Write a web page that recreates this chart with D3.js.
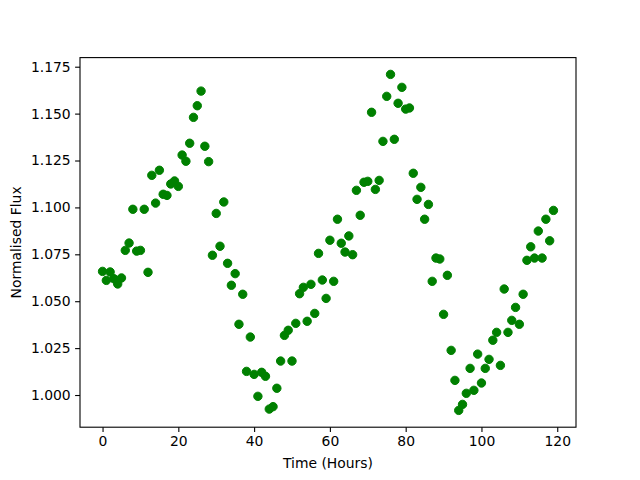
<!DOCTYPE html>
<html><head><meta charset="utf-8">
<script src="https://cdn.jsdelivr.net/npm/d3@7"></script>
<style>body{margin:0;background:#fff}svg{display:block}text{font-family:"DejaVu Sans",sans-serif}</style>
</head><body><svg id="c" width="640" height="480"></svg>
<script>
const hours = d3.range(0, 120);
const flux = [
1.0659,1.0611,1.0656,1.0620,1.0592,1.0624,1.0771,1.0810,1.0990,1.0767,
1.0771,1.0990,1.0654,1.1171,1.1023,1.1198,1.1070,1.1064,1.1125,1.1141,
1.1112,1.1279,1.1246,1.1342,1.1480,1.1542,1.1620,1.1326,1.1244,1.0745,
1.0968,1.0793,1.1029,1.0702,1.0585,1.0647,1.0377,1.0537,1.0126,1.0309,
1.0110,0.9993,1.0121,1.0100,0.9925,0.9938,1.0036,1.0181,1.0318,1.0345,
1.0181,1.0382,1.0540,1.0574,1.0393,1.0590,1.0435,1.0755,1.0613,1.0515,
1.0825,1.0606,1.0937,1.0809,1.0762,1.0848,1.0748,1.1091,1.0958,1.1134,
1.1139,1.1507,1.1096,1.1144,1.1352,1.1592,1.1709,1.1363,1.1555,1.1640,
1.1524,1.1530,1.1182,1.1043,1.1107,1.0937,1.1016,1.0606,1.0730,1.0725,
1.0430,1.0638,1.0238,1.0078,0.9918,0.9950,1.0009,1.0142,1.0025,1.0218,
1.0064,1.0142,1.0190,1.0292,1.0334,1.0158,1.0565,1.0334,1.0398,1.0467,
1.0377,1.0537,1.0718,1.0790,1.0730,1.0874,1.0730,1.0937,1.0822,1.0984];
const xTicks = [0,20,40,60,80,100,120];
const yTicks = [1.000,1.025,1.050,1.075,1.100,1.125,1.150,1.175];
const xLabel = "Time (Hours)";
const yLabel = "Normalised Flux";

const svg = d3.select("#c");
const L=80, R=576, T=57.6, B=427.2;
function pad(ext){const r=ext[1]-ext[0];return [ext[0]-0.05*r, ext[1]+0.05*r];}
const x = d3.scaleLinear().domain(pad(d3.extent(hours))).range([L,R]);
const y = d3.scaleLinear().domain(pad(d3.extent(flux))).range([B,T]);

const ax = svg.append("g").attr("transform",`translate(0,${B})`)
  .call(d3.axisBottom(x).tickValues(xTicks).tickFormat(d3.format("d")).tickSize(4.9).tickPadding(4.4));
const ay = svg.append("g").attr("transform",`translate(${L},0)`)
  .call(d3.axisLeft(y).tickValues(yTicks).tickFormat(d3.format(".3f")).tickSize(4.9).tickPadding(4.4));
[ax,ay].forEach(g=>{
  g.select(".domain").remove();
  g.selectAll(".tick line").attr("stroke","#000").attr("stroke-width",1.1);
  g.selectAll(".tick text").attr("font-size","13.9px").attr("fill","#000").attr("font-family","DejaVu Sans");
});

svg.append("g").selectAll("circle").data(hours).join("circle")
  .attr("cx",(d)=>x(d)).attr("cy",(d,i)=>y(flux[i])).attr("r",4.2)
  .attr("fill","#008000").attr("stroke","#008000").attr("stroke-width",1);

svg.append("rect").attr("x",L).attr("y",T).attr("width",R-L).attr("height",B-T)
  .attr("fill","none").attr("stroke","#000").attr("stroke-width",1.1);

svg.append("text").attr("x",(L+R)/2).attr("y",468).attr("text-anchor","middle")
  .attr("font-size","13.9px").text(xLabel);
svg.append("text").attr("transform",`translate(21,${(T+B)/2}) rotate(-90)`).attr("text-anchor","middle")
  .attr("font-size","13.9px").text(yLabel);
</script></body></html>
